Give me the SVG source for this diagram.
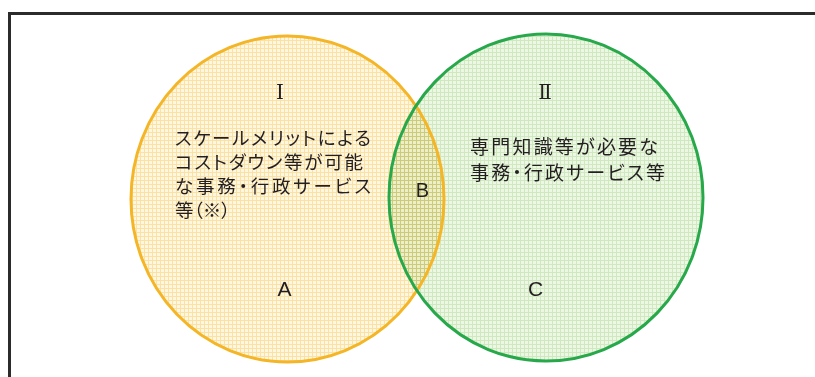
<svg xmlns="http://www.w3.org/2000/svg" width="815" height="377" viewBox="0 0 815 377">
<style>
.jp{font-family:"Noto Sans CJK JP","Noto Sans CJK SC",sans-serif;fill:#231f20;font-feature-settings:"palt"}
.lt{font-family:"Liberation Sans",Arial,sans-serif;fill:#231f20;text-anchor:middle}
.rn{font-family:"DejaVu Serif","Noto Sans CJK JP",serif;fill:#231f20;text-anchor:middle;font-size:20px}
</style>
<defs>
<pattern id="pO" width="4" height="4" patternUnits="userSpaceOnUse">
<rect width="4" height="4" fill="#fff7e2"/>
<rect width="4" height="1" fill="#fbe1a2"/>
<rect width="1" height="4" fill="#fbe1a2"/>
</pattern>
<pattern id="pG" width="4" height="4" patternUnits="userSpaceOnUse">
<rect width="4" height="4" fill="#ebf6e2"/>
<rect width="4" height="1" fill="#cbe6b6"/>
<rect width="1" height="4" fill="#cbe6b6"/>
</pattern>
</defs>
<rect width="815" height="377" fill="#ffffff"/>
<rect x="9.5" y="13.5" width="830" height="390" fill="none" stroke="#2b2b2b" stroke-width="3"/>
<g id="circle-I">
<ellipse cx="287.5" cy="199" rx="156.5" ry="163" fill="url(#pO)"/>
</g>
<g id="circle-II">
<ellipse cx="546" cy="197.5" rx="157" ry="163.5" fill="url(#pG)" style="mix-blend-mode:multiply" opacity="0.9"/>
</g>
<g id="outlines" fill="none" stroke-width="3">
<ellipse cx="287.5" cy="199" rx="156.5" ry="163" stroke="#f4b526"/>
<ellipse cx="546" cy="197.5" rx="157" ry="163.5" stroke="#27a84a"/>
</g>
<g id="label-I">
<text class="rn" x="280" y="99">Ⅰ</text>
<text class="jp" font-size="18.5"><tspan x="175" y="145" textLength="196" lengthAdjust="spacing">スケールメリットによる</tspan><tspan x="175" y="169" textLength="188" lengthAdjust="spacing">コストダウン等が可能</tspan><tspan x="175" y="193" textLength="196" lengthAdjust="spacing">な事務・行政サービス</tspan><tspan x="175" y="217">等（※）</tspan></text>
</g>
<g id="label-II">
<text class="rn" x="545" y="99">Ⅱ</text>
<text class="jp" font-size="19"><tspan x="470" y="154" textLength="188" lengthAdjust="spacing">専門知識等が必要な</tspan><tspan x="470" y="179.5" textLength="195" lengthAdjust="spacing">事務・行政サービス等</tspan></text>
</g>
<g id="label-A"><text class="lt" font-size="21" x="284.5" y="296">A</text></g>
<g id="label-B"><text class="lt" font-size="20" x="422.5" y="197">B</text></g>
<g id="label-C"><text class="lt" font-size="21" x="535.5" y="296">C</text></g>
</svg>
